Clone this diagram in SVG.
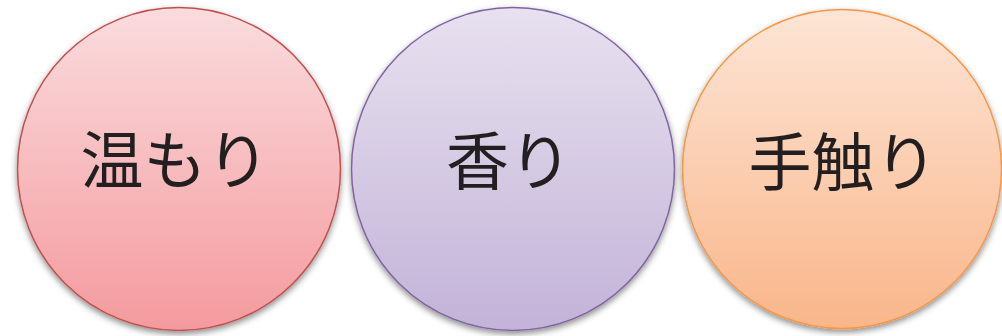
<svg xmlns="http://www.w3.org/2000/svg" width="1002" height="336" viewBox="0 0 1002 336">
<style>
.lbl{font-family:"Noto Sans CJK JP","Noto Sans CJK SC",sans-serif;font-size:63px;fill:#231f20;text-anchor:middle}
.c{stroke-width:1.5}
</style>
<defs>
<linearGradient id="gR" x1="0" y1="0" x2="0" y2="1">
<stop offset="0" stop-color="#fadcde"/>
<stop offset="1" stop-color="#f49a9e"/>
</linearGradient>
<linearGradient id="gP" x1="0" y1="0" x2="0" y2="1">
<stop offset="0" stop-color="#e8e1ef"/>
<stop offset="1" stop-color="#c2b3d8"/>
</linearGradient>
<linearGradient id="gO" x1="0" y1="0" x2="0" y2="1">
<stop offset="0" stop-color="#fde5d6"/>
<stop offset="1" stop-color="#f9b68a"/>
</linearGradient>
<filter id="sh" x="-10%" y="-10%" width="120%" height="125%">
<feDropShadow dx="0" dy="3" stdDeviation="3" flood-color="#000" flood-opacity="0.45"/>
</filter>
</defs>
<rect width="1002" height="336" fill="#ffffff"/>
<g id="connectors"></g>
<g id="node-warmth">
<circle class="c" cx="179" cy="169" r="161.5" fill="url(#gR)" stroke="#c0504d" filter="url(#sh)"/>
<text class="lbl" x="175" y="183">温もり</text>
</g>
<g id="node-scent">
<circle class="c" cx="513" cy="169" r="161.5" fill="url(#gP)" stroke="#8064a2" filter="url(#sh)"/>
<text class="lbl" x="509" y="184">香り</text>
</g>
<g id="node-touch">
<circle class="c" cx="842" cy="169" r="159.5" fill="url(#gO)" stroke="#f79646" filter="url(#sh)"/>
<text class="lbl" x="843" y="185">手触り</text>
</g>
</svg>
